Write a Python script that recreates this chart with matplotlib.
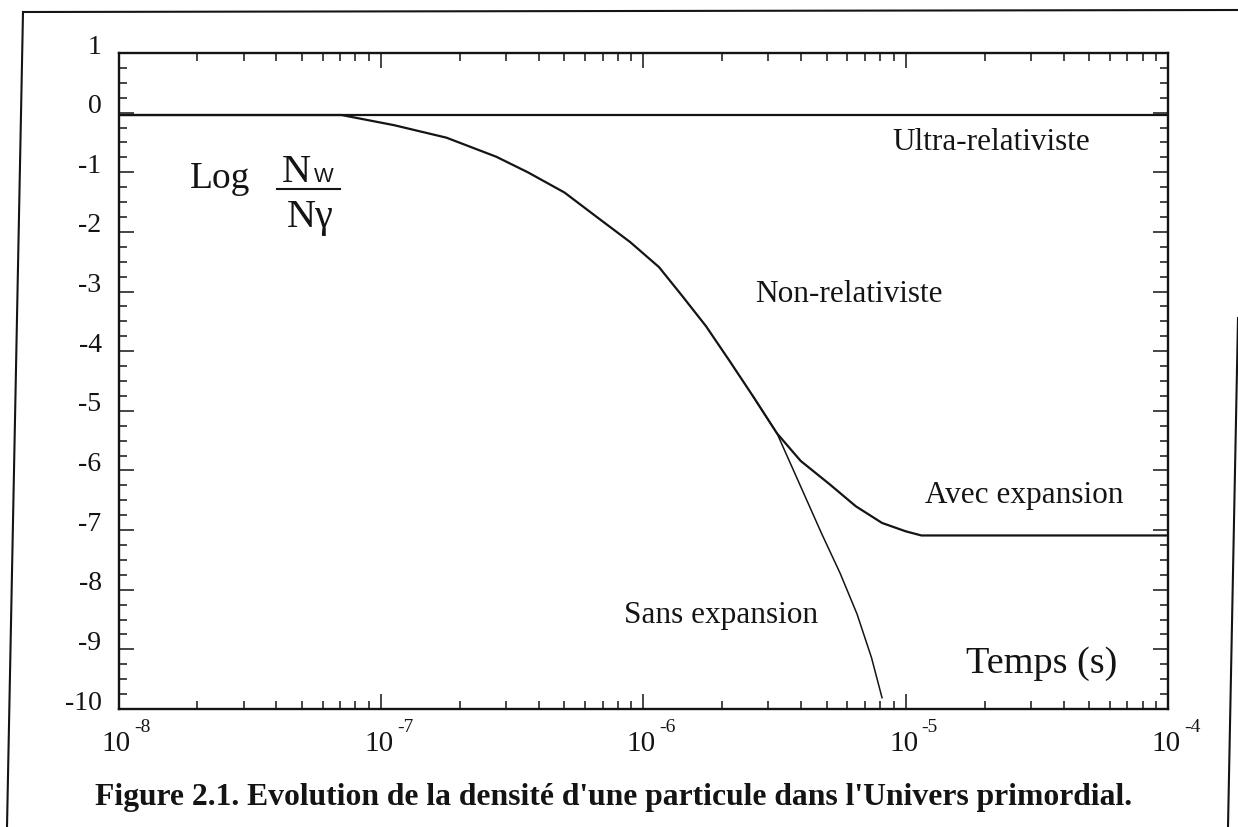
import matplotlib
matplotlib.use("Agg")
import matplotlib.pyplot as plt
from matplotlib.lines import Line2D
from matplotlib.ticker import MultipleLocator, LogLocator, NullFormatter
from matplotlib.transforms import offset_copy

# ---- valeurs (log10 du temps en s, log10 Nw/Ngamma) ----
log_t_ultra = [-8.0, -4.0]
log_n_ultra = [-0.04, -0.04]

log_t_avec = [-8.0, -7.40, -7.15, -6.95, -6.75, -6.56, -6.44, -6.30, -6.18,
              -6.05, -5.94, -5.854, -5.761, -5.67, -5.581, -5.49, -5.40,
              -5.29, -5.19, -5.09, -5.00, -4.94, -4.50, -4.00]
log_n_avec = [-0.04, -0.04, -0.04, -0.21, -0.42, -0.74, -1.00, -1.34, -1.74,
              -2.17, -2.59, -3.06, -3.58, -4.17, -4.76, -5.38, -5.84,
              -6.23, -6.60, -6.88, -7.02, -7.09, -7.09, -7.09]

log_t_sans = [-5.581, -5.49, -5.41, -5.32, -5.25, -5.185, -5.13, -5.09]
log_n_sans = [-4.76, -5.38, -6.17, -7.06, -7.72, -8.41, -9.14, -9.81]

y_ticks = list(range(1, -11, -1))
x_decades = [-8, -7, -6, -5, -4]

W, H = 1238, 827
SERIF = "Liberation Serif"
INK = "#141414"

fig = plt.figure(figsize=(W / 100, H / 100), dpi=100)
fig.patch.set_facecolor("white")

# axes placé en pixels (gauche, droite, haut, bas)
L, R, T, B = 118.5, 1168, 53, 709
ax = fig.add_axes([L / W, 1 - B / H, (R - L) / W, (B - T) / H])

def fx(px):
    return px / W

def fy(py):
    return 1 - py / H

ax.plot([10 ** v for v in log_t_ultra], log_n_ultra, color=INK, lw=1.6)
ax.plot([10 ** v for v in log_t_avec], log_n_avec, color=INK, lw=1.6,
        solid_joinstyle="round")
ax.plot([10 ** v for v in log_t_sans], log_n_sans, color=INK, lw=1.1,
        solid_joinstyle="round")

ax.set_xscale("log")
ax.set_xlim(1e-8, 1e-4)
ax.set_ylim(-10, 1)

for s in ax.spines.values():
    s.set_linewidth(1.7)
    s.set_color(INK)

ax.yaxis.set_major_locator(MultipleLocator(1))
ax.yaxis.set_minor_locator(MultipleLocator(0.25))
ax.xaxis.set_major_locator(LogLocator(base=10, numticks=10))
ax.xaxis.set_minor_locator(LogLocator(base=10, subs=range(2, 10), numticks=10))
ax.xaxis.set_minor_formatter(NullFormatter())
ax.tick_params(which="both", direction="in", top=True, right=True,
               labelbottom=False, labelleft=False, color=INK, width=1.1)
ax.tick_params(which="major", length=11)
ax.tick_params(which="minor", length=6)

# étiquettes de l'axe y (décalées un peu vers le haut comme sur l'original)
ytr = offset_copy(ax.get_yaxis_transform(), fig=fig, x=-17, y=6, units="dots")
for v in y_ticks:
    ax.text(0, v, f"{v}", transform=ytr, ha="right", va="center",
            fontsize=20, family=SERIF, color=INK)

# étiquettes de l'axe x : "10" puis l'exposant à droite
tr_base = offset_copy(ax.get_xaxis_transform(), fig=fig, x=-2, y=-35, units="dots")
tr_exp = offset_copy(ax.get_xaxis_transform(), fig=fig, x=16, y=-18, units="dots")
for e in x_decades:
    ax.text(10.0 ** e, 0, "10", transform=tr_base, ha="center", va="center",
            fontsize=21, family=SERIF, color=INK)
    ax.text(10.0 ** e, 0, f"{e}", transform=tr_exp, ha="left", va="center",
            fontsize=14, family=SERIF, color=INK)

# textes dans le graphique
fig.text(fx(1090), fy(150), "Ultra-relativiste", ha="right", va="baseline",
         fontsize=22.5, family=SERIF, color=INK)
fig.text(fx(755), fy(302), "Non-relativiste", ha="left", va="baseline",
         fontsize=22.5, family=SERIF, color=INK)
fig.text(fx(925), fy(503), "Avec expansion", ha="left", va="baseline",
         fontsize=22.5, family=SERIF, color=INK)
fig.text(fx(818), fy(623), "Sans expansion", ha="right", va="baseline",
         fontsize=22.5, family=SERIF, color=INK)
fig.text(fx(1117), fy(673), "Temps (s)", ha="right", va="baseline",
         fontsize=27.5, family=SERIF, color=INK)

# Log Nw / Ngamma
fig.text(fx(190), fy(188), "Log", ha="left", va="baseline",
         fontsize=27, family=SERIF, color=INK)
fig.text(fx(282), fy(182), "N", ha="left", va="baseline",
         fontsize=29, family=SERIF, color=INK)
fig.text(fx(314), fy(182), "W", ha="left", va="baseline",
         fontsize=15, family="Liberation Sans", color=INK)
fig.add_artist(Line2D([fx(277), fx(340)], [fy(189), fy(189)],
                      transform=fig.transFigure, color=INK, lw=1.5))
fig.text(fx(287), fy(227), "Nγ", ha="left", va="baseline",
         fontsize=29, family=SERIF, color=INK)

# légende de la figure
fig.text(fx(95), fy(805), "Figure 2.1. Evolution de la densité d'une particule "
         "dans l'Univers primordial.", ha="left", va="baseline",
         fontsize=22.8, family=SERIF, weight="bold", color=INK)

# cadre extérieur de la page scannée
for (x0, y0), (x1, y1) in [((23, 12), (1238, 10)), ((23, 12), (7, 827)),
                           ((1238, 318), (1228, 827))]:
    fig.add_artist(Line2D([fx(x0), fx(x1)], [fy(y0), fy(y1)],
                          transform=fig.transFigure, color=INK, lw=1.5))

fig.savefig("out.png", dpi=100, facecolor="white")
